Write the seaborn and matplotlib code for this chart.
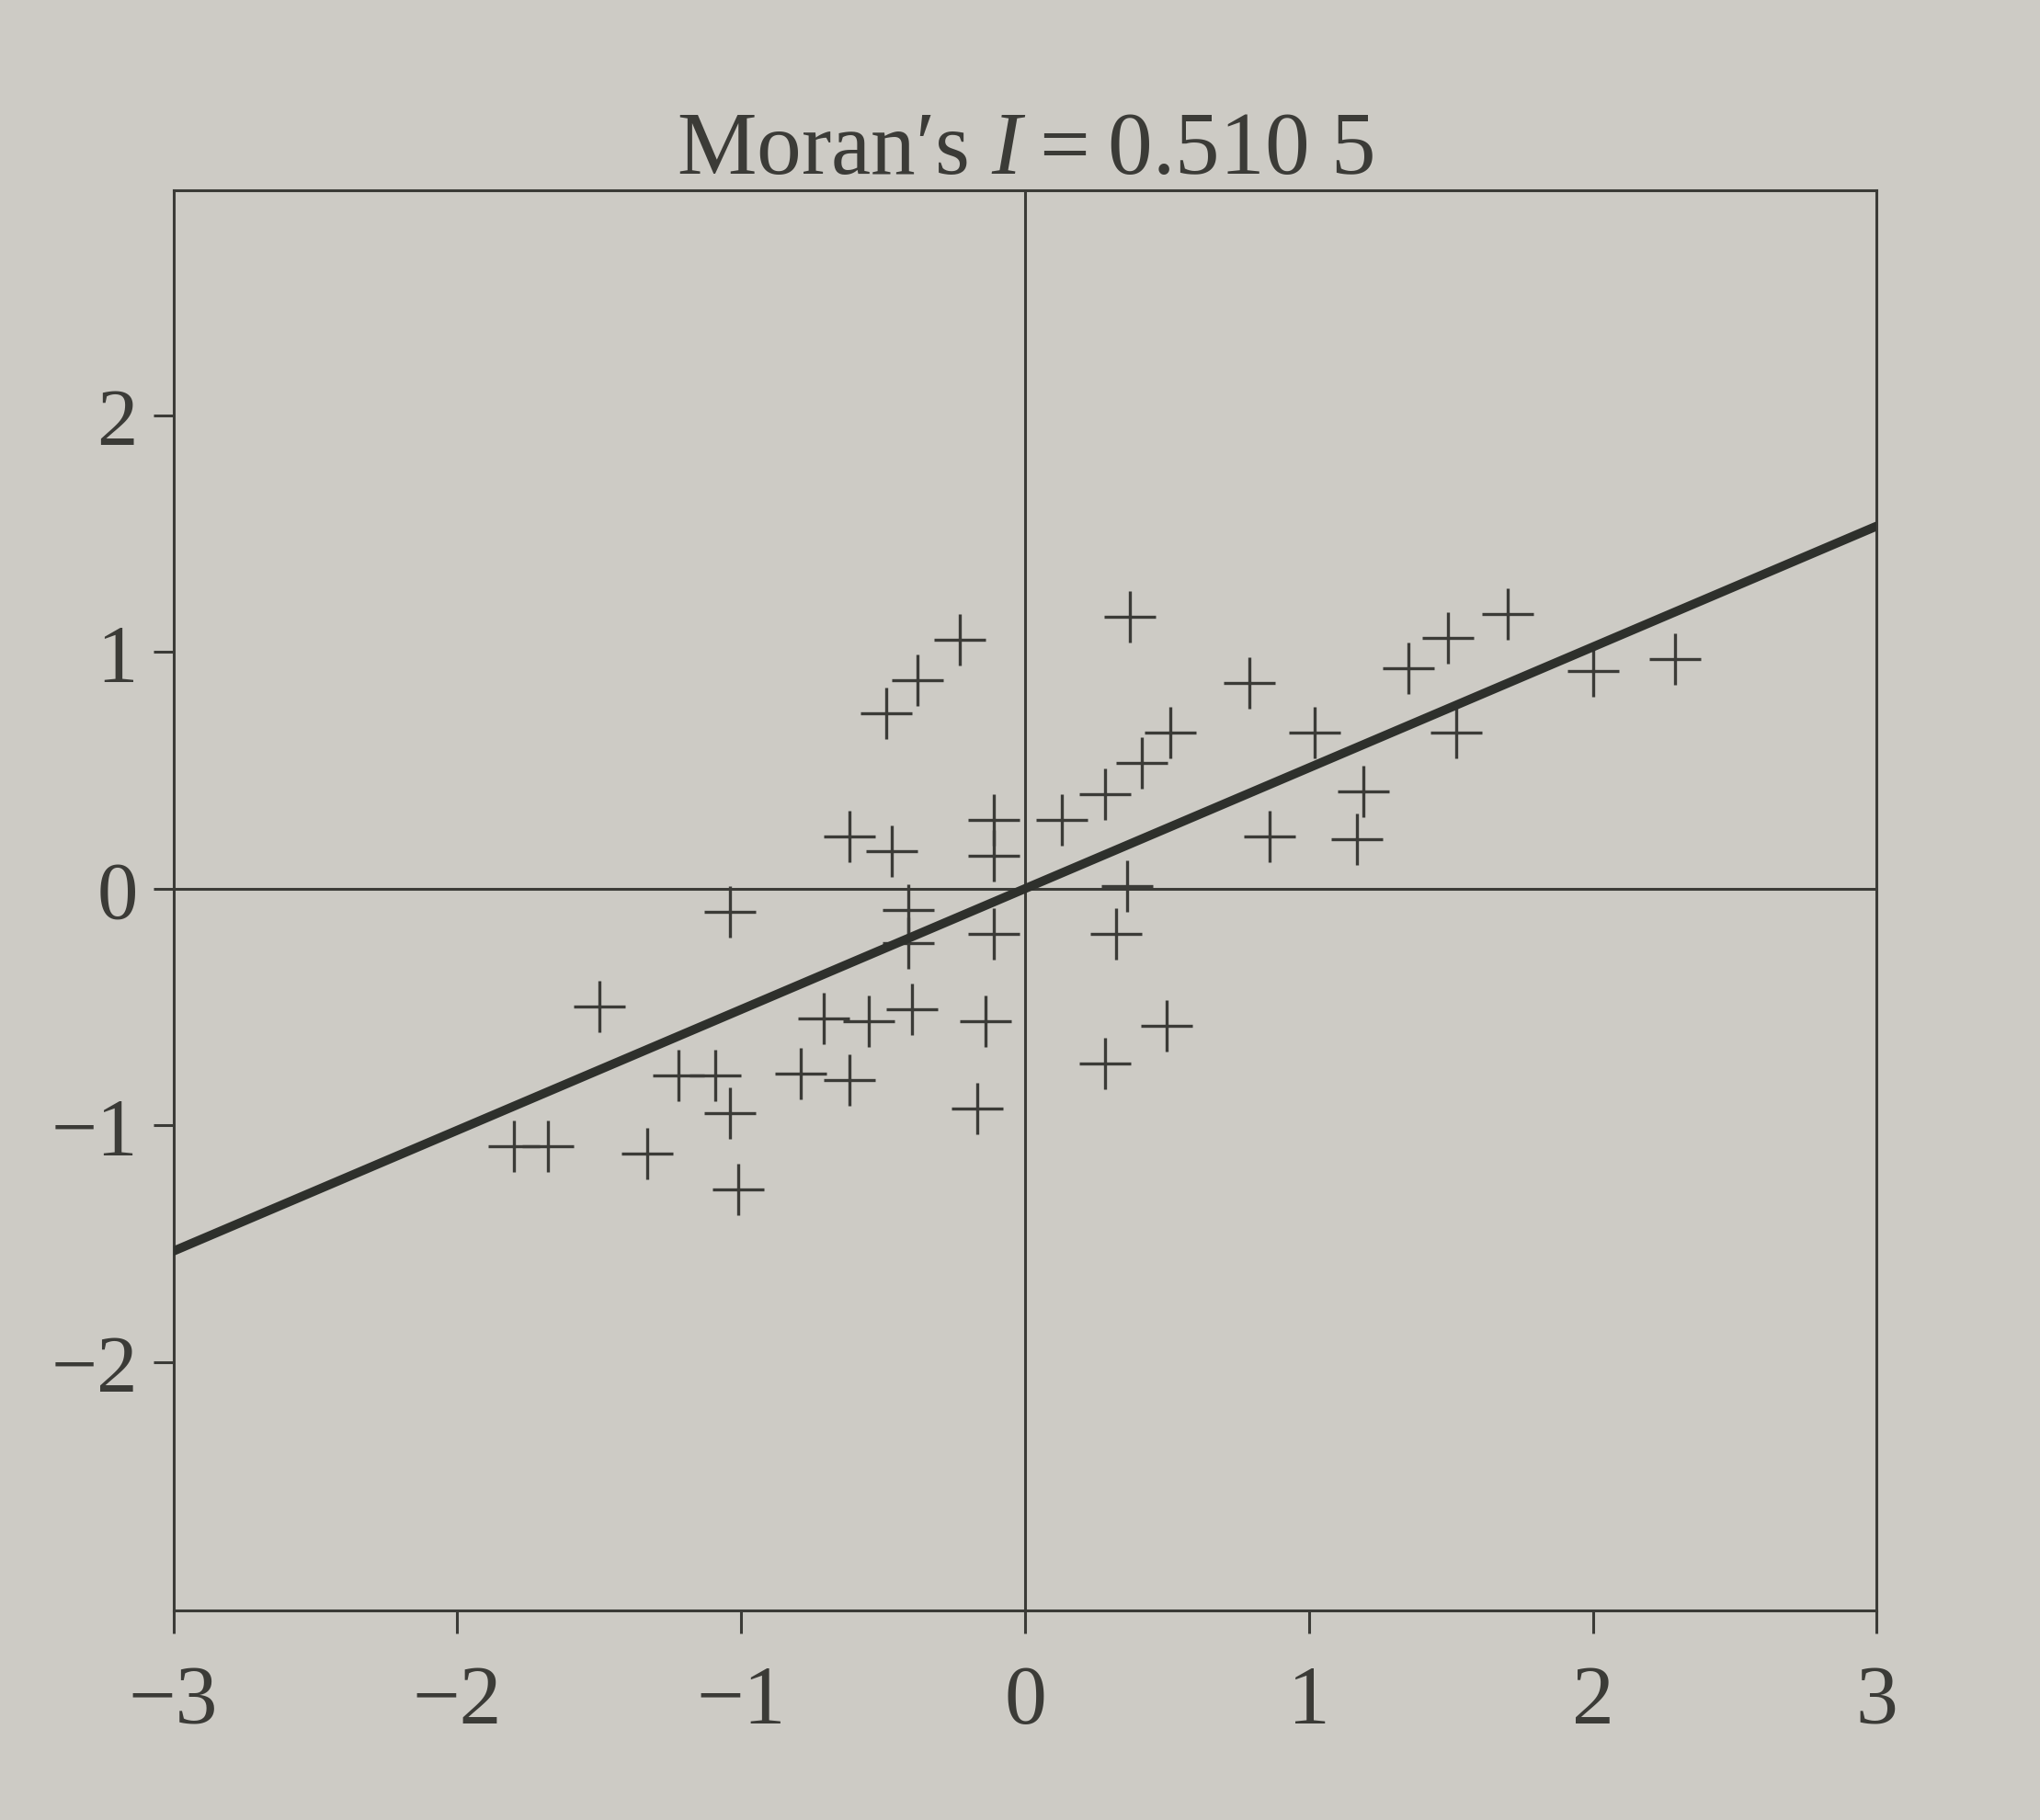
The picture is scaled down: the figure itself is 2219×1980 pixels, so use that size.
import matplotlib
matplotlib.use("Agg")
import matplotlib.pyplot as plt
import seaborn as sns
import numpy as np
import pandas as pd

# ---- data ----
z_values = [0.37, 0.51, 0.41, 0.28, 0.13, 0.36, 0.79, 1.02, 1.35, 1.49, 1.70, 1.52,
            2.00, 2.29, 1.19, 0.86, 1.17,
            -0.23, -0.38, -0.49, -0.11, -0.11, -0.62, -0.47,
            -1.04, -0.41, -0.41, -0.11, -0.40, -0.14, -0.55, -0.71, -1.50, -1.22,
            -1.09, -0.79, -0.62, -1.04, -0.17, -1.68, -1.80, -1.33, -1.01,
            0.32, 0.50, 0.28]
wz_values = [1.15, 0.66, 0.53, 0.40, 0.29, 0.01, 0.87, 0.66, 0.93, 1.06, 1.16, 0.66,
             0.92, 0.97, 0.41, 0.22, 0.21,
             1.05, 0.88, 0.74, 0.29, 0.14, 0.22, 0.16,
             -0.10, -0.09, -0.23, -0.19, -0.51, -0.56, -0.56, -0.55, -0.50, -0.79,
             -0.79, -0.78, -0.81, -0.95, -0.93, -1.09, -1.09, -1.12, -1.27,
             -0.19, -0.58, -0.74]
morans_i = 0.5105
line_x = [-3.0, 3.0]
x_ticks = [-3, -2, -1, 0, 1, 2, 3]
y_ticks = [-2, -1, 0, 1, 2]

pts = pd.DataFrame({"z": z_values, "wz": wz_values})
fit = pd.DataFrame({"x": line_x, "y": [morans_i * v for v in line_x]})

sns.set_theme(style="white")
plt.rcParams["font.family"] = ["Liberation Serif", "DejaVu Serif"]
plt.rcParams["mathtext.fontset"] = "custom"
plt.rcParams["mathtext.rm"] = "Liberation Serif"
plt.rcParams["mathtext.it"] = "Liberation Serif:italic"

bg = "#cdcbc5"
ink = "#3b3b37"

fig = plt.figure(figsize=(22.19, 19.81), dpi=100, facecolor=bg)
ax = fig.add_axes([0.085, 0.115, 0.835, 0.78])
ax.set_facecolor(bg)

ax.axhline(0, color=ink, lw=2.2, zorder=1)
ax.axvline(0, color=ink, lw=2.2, zorder=1)

sns.lineplot(data=fit, x="x", y="y", ax=ax, color="#2e302c", lw=7, zorder=3)
sns.scatterplot(data=pts, x="z", y="wz", ax=ax, marker="+", s=40 ** 2,
                color=ink, linewidth=2.4, zorder=2)

ax.set_xlim(-3, 3)
ax.set_ylim(-3.05, 2.95)
ax.set_xticks(x_ticks)
ax.set_yticks(y_ticks)
ax.set_xticklabels([str(v).replace("-", "\u2212") for v in x_ticks])
ax.set_yticklabels([str(v).replace("-", "\u2212") for v in y_ticks])
ax.set_xlabel("")
ax.set_ylabel("")

for s in ax.spines.values():
    s.set_visible(True)
    s.set_color(ink)
    s.set_linewidth(2.2)

ax.tick_params(axis="x", direction="out", length=18, width=2.2, color=ink,
               labelsize=66, labelcolor=ink, pad=24, bottom=True)
ax.tick_params(axis="y", direction="out", length=16, width=2.2, color=ink,
               labelsize=64, labelcolor=ink, pad=12, left=True)

ax.set_title("Moran\u2032s $I$\u2009=\u20090.510 5", fontsize=70, color=ink, pad=14)

fig.savefig("out.png", dpi=100, facecolor=bg)
